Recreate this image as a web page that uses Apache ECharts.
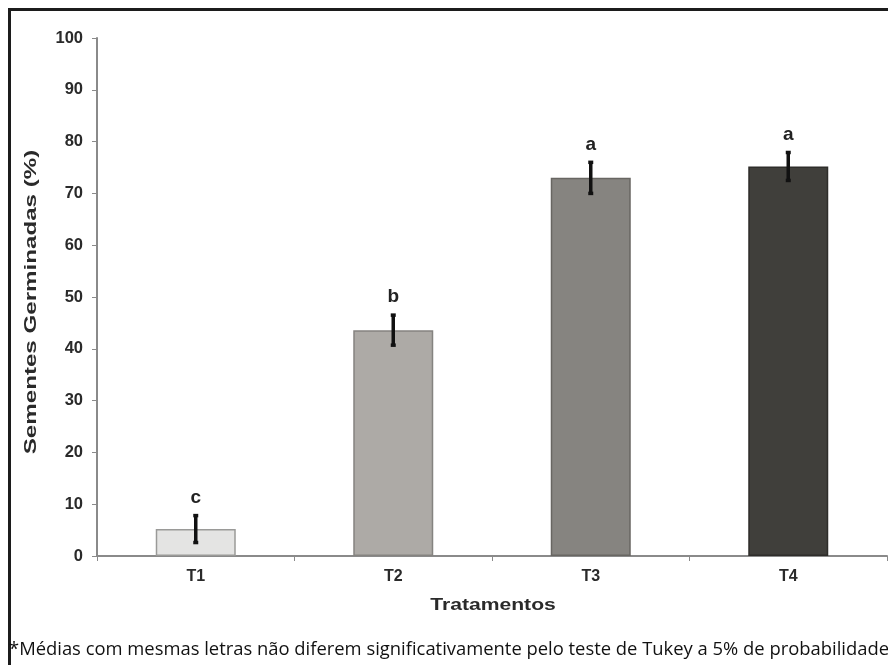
<!DOCTYPE html>
<html>
<head>
<meta charset="utf-8">
<script src="https://cdn.jsdelivr.net/npm/echarts@6/dist/echarts.min.js"></script>
<style>
  html, body { margin: 0; padding: 0; background: #fff; }
  #chart { width: 888px; height: 665px; }
</style>
</head>
<body>
<div id="chart"></div>
<script>
// Germinação de sementes por tratamento
const categories = ['T1', 'T2', 'T3', 'T4'];
const means = [5.2, 43.6, 73.0, 75.2];
const errors = [2.6, 2.9, 3.0, 2.7];
const letters = ['c', 'b', 'a', 'a'];
const yTicks = [0, 10, 20, 30, 40, 50, 60, 70, 80, 90, 100];
const xTitle = 'Tratamentos';
const yTitle = 'Sementes Germinadas (%)';
const footnote = '*Médias com mesmas letras não diferem significativamente pelo teste de Tukey a 5% de probabilidade.';

const barFill = ['#e4e4e3', '#adaaa6', '#868480', '#403f3b'];
const barEdge = ['#9a9a98', '#858380', '#686662', '#2e2d2a'];

const chart = echarts.init(document.getElementById('chart'), null, { renderer: 'canvas' });

const errorData = categories.map((c, i) => [i, means[i] - errors[i], means[i] + errors[i], letters[i]]);

chart.setOption({
  animation: false,
  backgroundColor: '#ffffff',
  grid: { left: 97, right: 1, top: 38, bottom: 109 },
  xAxis: {
    type: 'category',
    data: categories,
    axisLine: { lineStyle: { color: '#8a8a8a', width: 2 } },
    axisTick: { show: true, alignWithLabel: false, length: 5, lineStyle: { color: '#8a8a8a' } },
    axisLabel: { fontFamily: 'Liberation Sans', fontWeight: 'bold', fontSize: 16, color: '#2a2a2a', margin: 13 }
  },
  yAxis: {
    type: 'value',
    min: yTicks[0],
    max: yTicks[yTicks.length - 1],
    interval: 10,
    axisLine: { show: true, lineStyle: { color: '#8a8a8a', width: 2 } },
    axisTick: { show: true, inside: false, length: 5, lineStyle: { color: '#8a8a8a' } },
    axisLabel: { fontFamily: 'Liberation Sans', fontWeight: 'bold', fontSize: 16.5, color: '#2a2a2a', margin: 14 },
    splitLine: { show: false }
  },
  series: [
    {
      type: 'bar',
      barWidth: 80,
      data: means.map((v, i) => ({
        value: v,
        itemStyle: { color: barFill[i], borderColor: barEdge[i], borderWidth: 1.5 }
      })),
      z: 2
    },
    {
      type: 'custom',
      data: errorData,
      z: 5,
      renderItem: function (params, api) {
        const x = api.value(0);
        const lo = api.coord([x, api.value(1)]);
        const hi = api.coord([x, api.value(2)]);
        const cap = 2.5;
        const style = { stroke: '#111', lineWidth: 3.5 };
        return {
          type: 'group',
          children: [
            { type: 'line', shape: { x1: hi[0], y1: hi[1], x2: lo[0], y2: lo[1] }, style: style },
            { type: 'line', shape: { x1: hi[0] - cap, y1: hi[1], x2: hi[0] + cap, y2: hi[1] }, style: style },
            { type: 'line', shape: { x1: lo[0] - cap, y1: lo[1], x2: lo[0] + cap, y2: lo[1] }, style: style },
            {
              type: 'text',
              style: {
                text: api.value(3),
                x: hi[0],
                y: hi[1] - 18,
                textAlign: 'center',
                textVerticalAlign: 'middle',
                font: 'bold 19px "Liberation Sans"',
                fill: '#222'
              }
            }
          ]
        };
      }
    }
  ],
  graphic: [
    { type: 'line', z: 100, shape: { x1: 8, y1: 9.5, x2: 888, y2: 9.5 }, style: { stroke: '#1c1c1c', lineWidth: 3 } },
    { type: 'line', z: 100, shape: { x1: 9.5, y1: 8, x2: 9.5, y2: 665 }, style: { stroke: '#1c1c1c', lineWidth: 3 } },
    {
      type: 'text', z: 100, x: 493, y: 605, scaleX: 1.28,
      style: {
        text: xTitle, textAlign: 'center', textVerticalAlign: 'middle',
        font: 'bold 16.5px "Liberation Sans"', fill: '#2a2a2a'
      }
    },
    {
      type: 'text', z: 100, x: 31, y: 302, rotation: Math.PI / 2, scaleX: 1.42,
      style: {
        text: yTitle, textAlign: 'center', textVerticalAlign: 'middle',
        font: 'bold 17px "Liberation Sans"', fill: '#2a2a2a'
      }
    },
    {
      type: 'text', z: 100, x: 9, y: 650,
      style: {
        text: footnote, textVerticalAlign: 'middle',
        font: '18.4px "Open Sans"', fill: '#111'
      }
    }
  ]
});
</script>
</body>
</html>
